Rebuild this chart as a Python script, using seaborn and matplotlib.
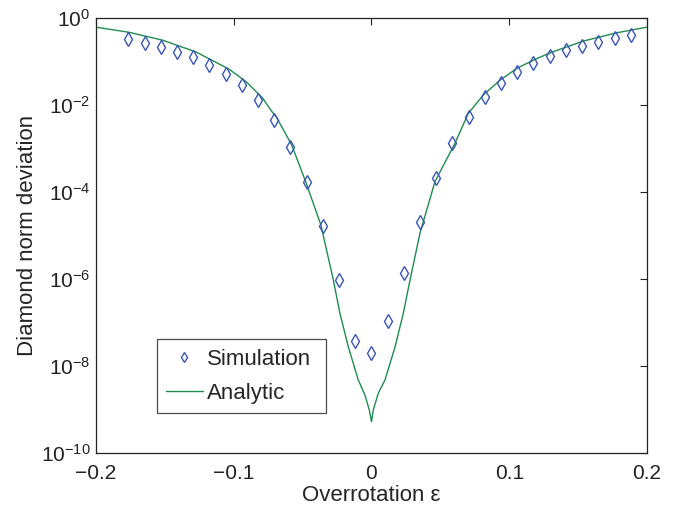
import numpy as np
import pandas as pd
import matplotlib
matplotlib.use("Agg")
import matplotlib.pyplot as plt
import seaborn as sns
from matplotlib.ticker import FixedLocator, FuncFormatter, NullLocator
from matplotlib.lines import Line2D

# Simulation points (x = overrotation, y = log10 of diamond norm deviation)
sim_x = [-0.1765, -0.1647, -0.1529, -0.1412, -0.1294, -0.1176, -0.1059, -0.0941,
         -0.0824, -0.0706, -0.0588, -0.0471, -0.0353, -0.0235, -0.0118, 0.0,
         0.0118, 0.0235, 0.0353, 0.0471, 0.0588, 0.0706, 0.0824, 0.0941,
         0.1059, 0.1176, 0.1294, 0.1412, 0.1529, 0.1647, 0.1765, 0.1882]
sim_log = [-0.49, -0.57, -0.67, -0.77, -0.90, -1.07, -1.29, -1.55,
           -1.89, -2.35, -2.96, -3.76, -4.79, -6.02, -7.43, -7.69,
           -6.97, -5.86, -4.68, -3.67, -2.88, -2.28, -1.82, -1.49,
           -1.23, -1.03, -0.87, -0.74, -0.64, -0.54, -0.47, -0.40]

# Analytic curve
ana_x = [-0.2, -0.1758, -0.1516, -0.1274, -0.1032, -0.0911, -0.079, -0.073,
         -0.0688, -0.0579, -0.0478, -0.0367, -0.0277, -0.0229, -0.0168, -0.0096,
         -0.0047, -0.0016, 0.0, 0.0013, 0.0049, 0.0098, 0.0171, 0.0231,
         0.0280, 0.0352, 0.0461, 0.0606, 0.0703, 0.0812, 0.0933, 0.1054,
         0.1175, 0.1296, 0.1538, 0.178, 0.2]
ana_log = [-0.21, -0.33, -0.51, -0.78, -1.18, -1.46, -1.84, -2.12,
           -2.29, -2.92, -3.76, -4.76, -6.02, -6.79, -7.56, -8.32,
           -8.67, -9.01, -9.28, -9.01, -8.63, -8.32, -7.56, -6.79,
           -6.02, -4.95, -3.76, -2.88, -2.19, -1.77, -1.43, -1.16,
           -0.97, -0.80, -0.53, -0.34, -0.21]

y_ticks = [1e-10, 1e-8, 1e-6, 1e-4, 1e-2, 1e0]
x_ticks = [-0.2, -0.1, 0.0, 0.1, 0.2]

sns.set_style("white")
plt.rcParams['font.family'] = ['Liberation Sans', 'DejaVu Sans']
plt.rcParams['mathtext.fontset'] = 'custom'
plt.rcParams['mathtext.rm'] = 'Liberation Sans'
plt.rcParams['mathtext.it'] = 'Liberation Sans'
plt.rcParams['axes.unicode_minus'] = True

sim_df = pd.DataFrame({"x": sim_x, "y": 10.0 ** np.array(sim_log)})
ana_df = pd.DataFrame({"x": ana_x, "y": 10.0 ** np.array(ana_log)})

fig = plt.figure(figsize=(6.89, 5.09), dpi=100)
ax = fig.add_axes([0.1393, 0.110, 0.7997, 0.8546])

line_color = "#1f8c4e"
mk_color = "#3a55b4"

sns.lineplot(data=ana_df, x="x", y="y", ax=ax, color=line_color, linewidth=1.0,
             sort=False, estimator=None)
ax.plot(sim_df["x"], sim_df["y"], linestyle="none", marker="d", markersize=7,
        markerfacecolor="none", markeredgecolor=mk_color, markeredgewidth=1.0)

ax.set_yscale("log")
ax.set_xlim(-0.2, 0.2)
ax.set_ylim(1e-10, 1e0)
ax.yaxis.set_major_locator(FixedLocator(y_ticks))
ax.yaxis.set_minor_locator(NullLocator())
ax.yaxis.set_major_formatter(FuncFormatter(lambda v, p: r"$10^{%d}$" % int(round(np.log10(v)))))
ax.xaxis.set_major_locator(FixedLocator(x_ticks))
ax.xaxis.set_major_formatter(FuncFormatter(lambda v, p: "0" if abs(v) < 1e-9 else ("%.1f" % v).replace("-", "\u2212")))

ax.tick_params(direction="in", length=5, width=0.8, top=True, right=True,
               labelsize=15, colors="#222222")
ax.tick_params(axis="x", pad=8)
ax.tick_params(axis="y", pad=4)
for s in ax.spines.values():
    s.set_color("#222222")
    s.set_linewidth(0.9)

ax.set_xlabel("Overrotation \u03b5", fontsize=16, labelpad=1)
ax.set_ylabel("Diamond norm deviation", fontsize=16, labelpad=2)

handles = [Line2D([], [], linestyle="none", marker="d", markersize=5.5,
                  markerfacecolor="none", markeredgecolor=mk_color, markeredgewidth=1.0),
           Line2D([], [], color=line_color, linewidth=1.0)]
leg = ax.legend(handles, ["Simulation", "Analytic"], loc="lower left",
                bbox_to_anchor=(0.110, 0.091, 0.307, 0.178), mode="expand",
                fontsize=16, frameon=True, fancybox=False, edgecolor="#222222",
                borderaxespad=0, handlelength=1.65, handletextpad=0.18,
                labelspacing=0.6, borderpad=0.42)
leg.get_frame().set_linewidth(0.9)

fig.savefig("out.png", dpi=100)
